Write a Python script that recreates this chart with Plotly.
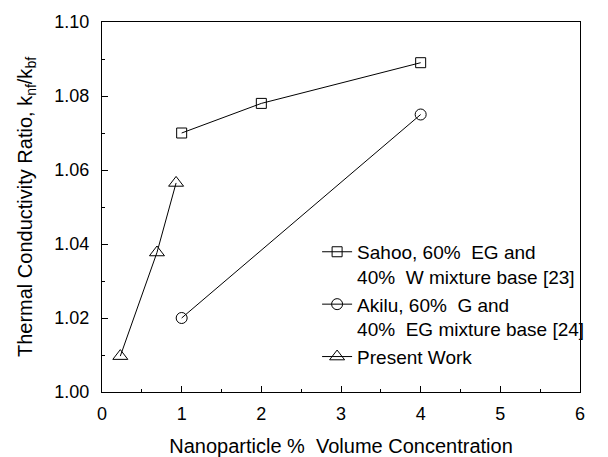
import plotly.graph_objects as go

sahoo_x = [1, 2, 4]
sahoo_y = [1.070, 1.078, 1.089]
akilu_x = [1, 4]
akilu_y = [1.020, 1.075]
present_x = [0.23, 0.69, 0.93]
present_y = [1.0097, 1.0377, 1.0565]

names = ["Sahoo, 60%  EG and<br>40%  W mixture base [23]",
         "Akilu, 60%  G and<br>40%  EG mixture base [24]",
         "Present Work"]

font = dict(family="Liberation Sans, Arial, sans-serif", color="black")

fig = go.Figure()
fig.add_trace(go.Scatter(x=sahoo_x, y=sahoo_y, mode="lines+markers", name=names[0],
                         line=dict(color="black", width=1),
                         marker=dict(symbol="square-open", size=10, color="black", line=dict(width=1))))
fig.add_trace(go.Scatter(x=akilu_x, y=akilu_y, mode="lines+markers", name=names[1],
                         line=dict(color="black", width=1),
                         marker=dict(symbol="circle-open", size=11, color="black", line=dict(width=1))))
fig.add_trace(go.Scatter(x=present_x, y=present_y, mode="lines+markers", name=names[2],
                         line=dict(color="black", width=1),
                         marker=dict(symbol="triangle-up-open", size=13, color="black", line=dict(width=1))))

fig.update_layout(
    width=608, height=457,
    margin=dict(l=102, r=28, t=22, b=65),
    paper_bgcolor="white", plot_bgcolor="white",
    font=dict(size=18, **font),
    showlegend=True,
    legend=dict(x=0.45, y=0.43, xanchor="left", yanchor="top",
                bgcolor="rgba(0,0,0,0)", borderwidth=0,
                font=dict(size=19, **font), valign="top",
                tracegroupgap=0, itemwidth=30),
)
fig.update_xaxes(range=[0, 6], dtick=1, tick0=0, ticks="inside", ticklen=6, tickwidth=1,
                 tickcolor="black", showline=True, linecolor="black", linewidth=1, mirror=True,
                 showgrid=False, zeroline=False, ticklabelstandoff=5, automargin=False,
                 minor=dict(dtick=0.5, ticks="inside", ticklen=3, tickcolor="black", showgrid=False),
                 tickfont=dict(size=18), title=dict(text="Nanoparticle %  Volume Concentration",
                                                    font=dict(size=20), standoff=16))
fig.update_yaxes(range=[1.0, 1.1], dtick=0.02, tick0=1.0, tickformat=".2f", ticks="inside",
                 ticklen=6, tickwidth=1, tickcolor="black", showline=True, linecolor="black",
                 linewidth=1, mirror=True, showgrid=False, zeroline=False, automargin=False,
                 ticklabelstandoff=8,
                 minor=dict(dtick=0.01, ticks="inside", ticklen=3, tickcolor="black", showgrid=False),
                 tickfont=dict(size=18),
                 title=dict(text="Thermal Conductivity Ratio, k<sub>nf</sub>/k<sub>bf</sub>",
                            font=dict(size=20), standoff=16))

fig.write_html("out.html")
